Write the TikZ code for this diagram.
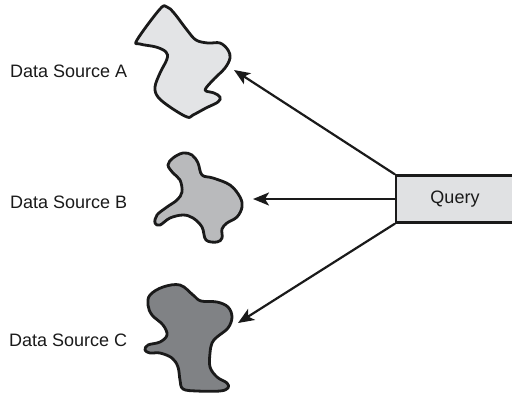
\documentclass[tikz,border=0pt]{standalone}
\usepackage{fontspec}
\setmainfont{Liberation Sans}
\usetikzlibrary{arrows.meta}
\definecolor{blobA}{HTML}{E3E4E6}
\definecolor{blobB}{HTML}{B9BABC}
\definecolor{blobC}{HTML}{808285}
\definecolor{boxfill}{HTML}{E0E1E3}
\definecolor{ink}{HTML}{1A1A1A}
\begin{document}
\begin{tikzpicture}[x=1pt,y=-1pt,
  blob/.style={draw=ink,line width=2.8pt,line join=round},
  lbl/.style={font=\fontsize{18}{21}\selectfont,text=ink,anchor=west,inner sep=0pt},
  conn/.style={draw=ink,line width=2.2pt,-{Stealth[length=16pt,width=13pt,inset=4pt]}},
  qbox/.style={draw=ink,line width=2.2pt,fill=boxfill,minimum width=122pt,minimum height=47pt,inner sep=0pt}
]
\useasboundingbox (0,0) rectangle (512,392);
\clip (0,0) rectangle (512,392);
% blobs
\draw[blob,fill=blobA] plot[smooth cycle,tension=0.6] coordinates {
 (137,40) (160,9) (167,7) (174,13) (187,30) (196,40) (208,43) (220,43) (228,50) (230,58)
 (225,68) (214,79) (206,88) (206,91) (214,93) (220,97) (218,102) (206,108) (193,115) (187,117)
 (170,107) (158,97) (155,87) (160,73) (167,59) (166,52) (156,47) (140,44)};
\draw[blob,fill=blobB] plot[smooth cycle,tension=0.6] coordinates {
 (173,158) (183,153) (192,155) (198,163) (202,175) (213,178) (230,185) (240,197) (242,207)
 (237,217) (227,223) (222,229) (222,238) (217,242) (206,240) (202,227) (193,218) (183,215)
 (170,218) (160,225) (155,223) (157,215) (167,207) (177,200) (182,192) (180,180) (173,173) (168,165)};
\draw[blob,fill=blobC] plot[smooth cycle,tension=0.6] coordinates {
 (150,295) (163,287) (180,285) (193,295) (201,301) (217,302) (228,307) (232,317) (228,328)
 (217,337) (212,343) (210,353) (210,367) (217,377) (227,383) (228,388) (220,391) (197,391)
 (183,389) (180,380) (178,367) (172,358) (160,353) (150,353) (145,350) (148,345) (160,342)
 (167,335) (163,325) (152,315) (148,305)};
% labels
\node[lbl] (la) at (10,71) {Data Source A};
\node[lbl] (lb) at (10,202) {Data Source B};
\node[lbl] (lc) at (9,340) {Data Source C};
% query box
\node[qbox,anchor=west] (q) at (395,199) {};
\node[font=\fontsize{18}{21}\selectfont,text=ink] (qt) at (455,199) {Query};
% arrow targets
\coordinate (ta) at (234,70);
\coordinate (tb) at (253,199);
\coordinate (tc) at (238,323);
\draw[conn] (q.north west) -- (ta);
\draw[conn] (q.west) -- (tb);
\draw[conn] (q.south west) -- (tc);
\end{tikzpicture}
\end{document}
